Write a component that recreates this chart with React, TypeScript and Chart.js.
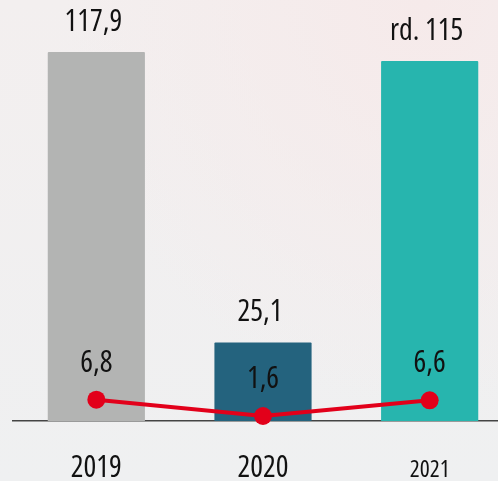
import React, { useEffect, useRef } from "react";
import { Chart, registerables } from "chart.js";

Chart.register(...registerables);

const categories = ["2019", "2020", "2021"];
const barValues = [117.9, 25.1, 115];
const barLabels = ["117,9", "25,1", "rd. 115"];
const lineValues = [6.8, 1.6, 6.6];
const lineLabels = ["6,8", "1,6", "6,6"];
const barColors = ["#b3b4b3", "#24637e", "#27b5ae"];

const FONT = "'Open Sans', 'DejaVu Sans Condensed', sans-serif";
const STRETCH = "condensed";

const valueLabelPlugin = {
  id: "valueLabels",
  afterDatasetsDraw(chart: any) {
    const ctx = chart.ctx;
    ctx.save();
    ctx.fillStyle = "#111";
    ctx.textAlign = "center";
    ctx.textBaseline = "alphabetic";
    ctx.font = `${STRETCH} 30px ${FONT}`;
    const barMeta = chart.getDatasetMeta(0);
    barMeta.data.forEach((el: any, i: number) => {
      ctx.fillText(barLabels[i], el.x - 3, el.y - 21);
    });
    const lineMeta = chart.getDatasetMeta(1);
    lineMeta.data.forEach((el: any, i: number) => {
      ctx.fillText(lineLabels[i], el.x, el.y - 28);
    });
    ctx.restore();
  },
};

export default function App() {
  const ref = useRef<HTMLCanvasElement | null>(null);
  useEffect(() => {
    if (!ref.current) return;
    const chart = new Chart(ref.current, {
      type: "bar",
      data: {
        labels: categories,
        datasets: [
          {
            type: "bar",
            data: barValues,
            backgroundColor: barColors,
            borderRadius: 1,
            categoryPercentage: 1,
            barPercentage: 0.583,
            order: 1,
          },
          {
            type: "line",
            data: lineValues,
            borderColor: "#e2001a",
            backgroundColor: "#e2001a",
            borderWidth: 4,
            pointRadius: 9,
            pointHoverRadius: 9,
            pointBorderWidth: 0,
            clip: false as any,
            order: 0,
          } as any,
        ],
      },
      options: {
        responsive: false,
        animation: false,
        layout: { autoPadding: false, padding: { left: 13, right: 0, top: 0, bottom: 0 } },
        plugins: { legend: { display: false }, tooltip: { enabled: false } },
        scales: {
          y: { display: false, min: 0, max: 134.5 },
          x: {
            grid: { display: false, drawTicks: false },
            border: { display: true, color: "#444", width: 1.5 },
            afterFit: (s: any) => {
              s.height = 60;
            },
            ticks: {
              color: "#111",
              padding: 29,
              font: (c: any) =>
                c.index === 2
                  ? { family: FONT, weight: STRETCH, size: 23.5, lineHeight: "40px" }
                  : { family: FONT, weight: STRETCH, size: 30, lineHeight: 1.2 },
            },
          },
        },
      },
      plugins: [valueLabelPlugin],
    });
    return () => chart.destroy();
  }, []);
  return (
    <div
      style={{
        position: "fixed",
        left: 0,
        top: 0,
        width: 498,
        height: 481,
        overflow: "hidden",
        background:
          "radial-gradient(ellipse at 85% 0%, #f6eaea 0%, rgba(246,234,234,0) 60%), linear-gradient(180deg, #f3efef 0%, #eff0f1 100%)",
      }}
    >
      <canvas ref={ref} width={513} height={481} style={{ display: "block" }} />
    </div>
  );
}
